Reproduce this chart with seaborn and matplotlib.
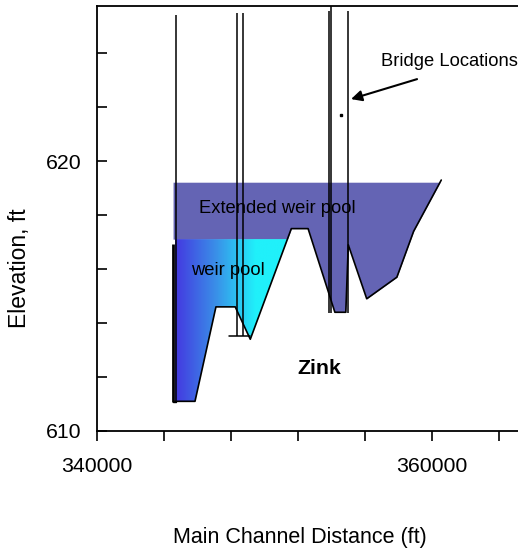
import numpy as np
import matplotlib
matplotlib.use("Agg")
import matplotlib.pyplot as plt
import seaborn as sns
from matplotlib.colors import LinearSegmentedColormap

# ---- data ----
ground_x = [344650, 345850, 347100, 348250, 349150, 351600, 352600,
            354200, 354850, 355000, 356100, 357900, 358900, 360550]
ground_y = [611.1, 611.1, 614.6, 614.6, 613.4, 617.5, 617.5,
            614.4, 614.4, 616.9, 614.9, 615.7, 617.4, 619.3]
weir_pool_level = 617.11
extended_pool_level = 619.22
extended_pool_left = 344540
weir_pool_left = 344650

# bridge piers: x, bottom elevation, top elevation
bridge_x = [344720, 348360, 348715, 353850, 353970, 354985]
bridge_bottom = [611.04, 613.52, 613.52, 614.37, 614.37, 614.37]
bridge_top = [625.41, 625.48, 625.48, 625.56, 625.75, 625.56]
abut_x = [344540]
abut_bottom = [611.07]
abut_top = [616.93]
bridge2_sill_x = [347880, 349130]
bridge2_sill_y = [613.52, 613.52]

x_major = [340000, 360000]
x_minor = [344000, 348000, 352000, 356000, 364000]
y_major = [610, 620]
y_minor = [612, 614, 616, 618, 622, 624]

sns.set_theme(style="white")
plt.rcParams["font.family"] = ["Liberation Sans", "DejaVu Sans"]
plt.rcParams.update({"text.color": "black", "axes.labelcolor": "black",
                     "xtick.color": "black", "ytick.color": "black"})

fig = plt.figure(figsize=(5.18, 5.50), dpi=100)
ax = fig.add_axes([97 / 518, 1 - 431 / 550, (518 - 97) / 518, 425 / 550])
ax.set_xlim(340000, 365130)
ax.set_ylim(610, 625.75)

xs = np.linspace(extended_pool_left, ground_x[-1], 4000)
gi = np.interp(xs, ground_x, ground_y)

# extended weir pool
in_weir = (xs < weir_pool_left) | ((gi < weir_pool_level) & (xs < 351600))
lower_ext = np.where(in_weir, weir_pool_level, gi)
ax.fill_between(xs, lower_ext, extended_pool_level,
                where=lower_ext < extended_pool_level, interpolate=True,
                color="#6464b4", linewidth=0, zorder=1)

# weir pool with gradient
xw = xs[(xs >= weir_pool_left) & (xs < 351600)]
gw = np.interp(xw, ground_x, ground_y)
weir_poly = ax.fill_between(xw, gw, weir_pool_level, where=gw < weir_pool_level,
                            interpolate=True, facecolor="none", linewidth=0, zorder=1)
cmap = LinearSegmentedColormap.from_list("wp", ["#4438e0", "#3a8ee8", "#20f0fa"])
gx = np.linspace(weir_pool_left, 351600, 400)
grad = np.clip((gx - weir_pool_left) / (349450 - weir_pool_left), 0, 1)[None, :]
im = ax.imshow(grad, extent=[weir_pool_left, 351600, 610.5, weir_pool_level],
               aspect="auto", cmap=cmap, vmin=0, vmax=1, zorder=1, origin="lower")
im.set_clip_path(weir_poly.get_paths()[0], transform=ax.transData)

# ground profile
sns.lineplot(x=ground_x, y=ground_y, sort=False, color="black", linewidth=1.2,
             ax=ax, zorder=3)

# bridges
ax.vlines(bridge_x, bridge_bottom, bridge_top, color="black", linewidth=1.1, zorder=4)
ax.vlines(abut_x, abut_bottom, abut_top, color="black", linewidth=2.0, zorder=4)
ax.plot(bridge2_sill_x, bridge2_sill_y, color="black", linewidth=1.1, zorder=4)
ax.plot([344540, 344720], [611.07, 611.07], color="black", linewidth=1.0, zorder=4)

# annotations
ax.text(346090, 618.26, "Extended weir pool", fontsize=13.2, va="center", ha="left", zorder=5)
ax.text(345620, 615.93, "weir pool", fontsize=13.2, va="center", ha="left", zorder=5)
ax.text(351940, 612.30, "Zink", fontsize=15.4, fontweight="bold", va="center", ha="left", zorder=5)
ax.text(356955, 623.70, "Bridge Locations", fontsize=13.2, va="center", ha="left", zorder=5)
ax.annotate("", xy=(355164, 622.30), xytext=(359104, 623.04),
            arrowprops=dict(arrowstyle="-|>", color="black", lw=1.5,
                            mutation_scale=16, shrinkA=0, shrinkB=0), zorder=5)
ax.plot([354567], [621.70], marker="s", markersize=1.5, color="black", linestyle="none")

# axes styling
for s in ["left", "bottom", "top"]:
    ax.spines[s].set_visible(True)
    ax.spines[s].set_color("black")
    ax.spines[s].set_linewidth(1.3)
ax.spines["right"].set_visible(False)

ax.set_xticks(x_major)
ax.set_xticklabels([str(v) for v in x_major])
ax.set_xticks(x_minor, minor=True)
ax.set_yticks(y_major)
ax.set_yticklabels([str(v) for v in y_major])
ax.set_yticks(y_minor, minor=True)
ax.tick_params(axis="x", which="both", direction="out", length=7.5, width=1.2,
               bottom=True, top=False, color="black", labelsize=15.3, pad=11)
ax.tick_params(axis="y", which="both", direction="in", length=7.5, width=1.2,
               left=True, right=False, color="black", labelsize=15.3, pad=11)

ax.set_xlabel("Main Channel Distance (ft)", fontsize=15.5)
ax.xaxis.set_label_coords((299.5 - 97) / 421, (431 - 537) / 425)
ax.xaxis.label.set_va("center")
ax.set_ylabel("Elevation, ft", fontsize=16.5)
ax.yaxis.set_label_coords((20 - 97) / 421, (431 - 268) / 425)
ax.yaxis.label.set_va("center")

fig.savefig("out.png", dpi=100)
